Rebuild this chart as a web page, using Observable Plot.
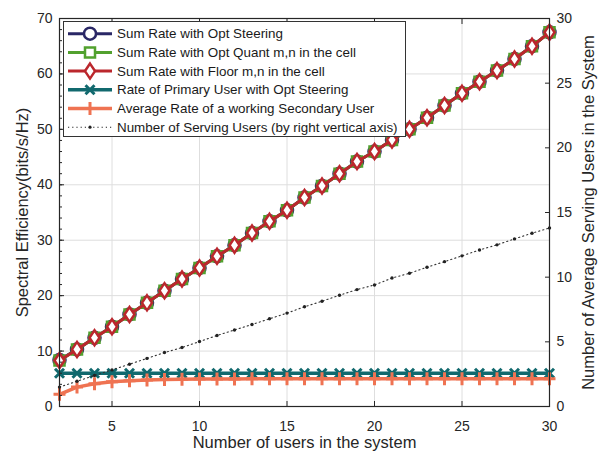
<!DOCTYPE html>
<html><head><meta charset="utf-8">
<script src="https://cdn.jsdelivr.net/npm/d3@7"></script>
<script src="https://cdn.jsdelivr.net/npm/@observablehq/plot@0.6"></script>
<style>
body{margin:0;background:#fff;}
#wrap{position:relative;width:605px;height:454px;font-family:"Liberation Sans",Arial,sans-serif;}
#legend{position:absolute;left:63px;top:21px;}
</style></head><body><div id="wrap"></div>
<script>
// ---- data ----
const users = [2,3,4,5,6,7,8,9,10,11,12,13,14,15,16,17,18,19,20,21,22,23,24,25,26,27,28,29,30];
const sumOptSteering = [8.4,10.3,12.4,14.4,16.6,18.7,20.9,23.0,25.0,27.1,29.1,31.3,33.4,35.4,37.7,39.8,42.0,44.2,46.0,48.1,50.0,52.1,54.3,56.5,58.6,60.6,62.7,65.0,67.5];
const sumOptQuant    = [8.3,10.3,12.4,14.4,16.6,18.7,20.9,23.0,25.0,27.1,29.1,31.3,33.4,35.4,37.7,39.8,42.0,44.2,46.0,48.1,50.0,52.1,54.3,56.5,58.6,60.6,62.7,65.0,67.5];
const sumFloor       = [8.3,10.3,12.4,14.4,16.6,18.7,20.9,23.0,25.0,27.1,29.1,31.3,33.4,35.4,37.7,39.8,42.0,44.2,46.0,48.1,50.0,52.1,54.3,56.5,58.6,60.6,62.7,65.0,67.5];
const primaryRate    = [6.0,6.0,6.0,6.0,6.0,6.0,6.0,6.0,6.0,6.0,6.0,6.0,6.0,6.0,6.0,6.0,6.0,6.0,6.0,6.0,6.0,6.0,6.0,6.0,6.0,6.0,6.0,6.0,6.0];
const secondaryRate  = [2.2,3.5,4.1,4.45,4.65,4.8,4.87,4.92,4.95,4.97,4.98,4.99,5.0,5.0,5.0,5.0,5.0,5.0,5.0,5.0,5.0,5.0,5.0,5.0,5.0,5.0,5.0,5.0,5.0];
const servingUsers   = [1.5,1.95,2.4,2.83,3.27,3.72,4.17,4.56,5.02,5.49,5.92,6.34,6.78,7.22,7.71,8.14,8.6,9.04,9.4,9.93,10.3,10.77,11.2,11.65,12.1,12.5,12.96,13.4,13.8];

const seriesNames = ["Sum Rate with Opt Steering","Sum Rate with Opt Quant m,n in the cell","Sum Rate with Floor m,n in the cell","Rate of Primary User with Opt Steering","Average Rate of a working Secondary User","Number of Serving Users (by right vertical axis)"];
const seriesColors = ["#2a2766","#52a12e","#bb272d","#11696e","#ef7352","#222222"];

const xTicks = [5,10,15,20,25,30];
const yLeftTicks = [0,10,20,30,40,50,60,70];
const yLeftMinor = [0,2,4,6,8,10,12,14,16,18,20,22,24,26,28,30,32,34,36,38,40,42,44,46,48,50,52,54,56,58,60,62,64,66,68,70];
const yRightTicks = [0,5,10,15,20,25,30];
const xLabel = "Number of users in the system";
const yLeftLabel = "Spectral Efficiency(bits/s/Hz)";
const yRightLabel = "Number of Average Serving Users in the System";

// ---- marker shapes ----
const sym = {
  circle: {draw(c){c.moveTo(6,0); c.arc(0,0,6,0,2*Math.PI); c.closePath();}},
  square: {draw(c){c.rect(-5,-5,10,10);}},
  diamond:{draw(c){c.moveTo(0,-7.5); c.lineTo(5,0); c.lineTo(0,7.5); c.lineTo(-5,0); c.closePath();}},
  times:  {draw(c){c.moveTo(-4.5,-4.5); c.lineTo(4.5,4.5); c.moveTo(-4.5,4.5); c.lineTo(4.5,-4.5);}},
  plus:   {draw(c){c.moveTo(-6,0); c.lineTo(6,0); c.moveTo(0,-6.5); c.lineTo(0,6.5);}},
  dot:    {draw(c){c.moveTo(1.6,0); c.arc(0,0,1.6,0,2*Math.PI); c.closePath();}}
};
const k = 70/30; // right axis -> left axis

const series = [
  {values: sumOptSteering, color: seriesColors[0], symbol: sym.circle, fill:"white", lw:3, mw:2.5},
  {values: sumOptQuant,    color: seriesColors[1], symbol: sym.square, fill:"white", lw:3, mw:2.5},
  {values: sumFloor,       color: seriesColors[2], symbol: sym.diamond, fill:"white", lw:3, mw:2.5},
  {values: primaryRate,    color: seriesColors[3], symbol: sym.times, fill:"none", lw:3.5, mw:3},
  {values: secondaryRate,  color: seriesColors[4], symbol: sym.plus, fill:"none", lw:3.5, mw:3}
];

const marks = [
  Plot.gridX({ticks: xTicks.slice(0,-1), stroke:"#dedede", strokeOpacity:1, strokeWidth:1}),
  Plot.gridY({ticks: yLeftTicks.slice(1,-1), stroke:"#dedede", strokeOpacity:1, strokeWidth:1})
];
for (const s of series) {
  const rows = users.map((u,i)=>({x:u, y:s.values[i]}));
  marks.push(Plot.line(rows, {x:"x", y:"y", stroke:s.color, strokeWidth:s.lw}));
  marks.push(Plot.dot(rows, {x:"x", y:"y", symbol:s.symbol, stroke:s.color, fill:s.fill, strokeWidth:s.mw, r:5}));
}
const servRows = users.map((u,i)=>({x:u, y:servingUsers[i]}));
marks.push(Plot.line(servRows, {x:"x", y:d=>d.y*k, stroke:"#333", strokeWidth:1.1, strokeDasharray:"1.2,3"}));
marks.push(Plot.dot(servRows, {x:"x", y:d=>d.y*k, r:1.7, fill:"#222", stroke:"none"}));
marks.push(Plot.frame({stroke:"#262626", strokeWidth:1.2}));
const none = () => "";
marks.push(
  Plot.axisX({ticks:xTicks, tickSize:0, tickPadding:15, label:null, fontSize:14}),
  Plot.axisX({ticks:xTicks, tickSize:-5, tickFormat:none, label:null}),
  Plot.axisX({anchor:"top", ticks:xTicks, tickSize:-5, tickFormat:none, label:null}),
  Plot.axisY({ticks:yLeftTicks, tickSize:0, tickPadding:7, label:null, fontSize:14}),
  Plot.axisY({ticks:yLeftTicks, tickSize:-5, tickFormat:none, label:null}),
  Plot.axisY({ticks:yLeftMinor, tickSize:-3, tickFormat:none, label:null}),
  Plot.axisY({anchor:"right", ticks:yRightTicks.map(v=>v*k), tickFormat:v=>String(Math.round(v/k)), tickSize:0, tickPadding:7, label:null, fontSize:14}),
  Plot.axisY({anchor:"right", ticks:yRightTicks.map(v=>v*k), tickSize:-5, tickFormat:none, label:null}),
  Plot.text([xLabel], {text:d=>d, frameAnchor:"bottom", dy:36, lineAnchor:"middle", textAnchor:"middle", fontSize:16.5, fill:"#262626"}),
  Plot.text([yLeftLabel], {text:d=>d, frameAnchor:"left", rotate:-90, dx:-37, textAnchor:"middle", lineAnchor:"middle", fontSize:16.5, fill:"#262626"}),
  Plot.text([yRightLabel], {text:d=>d, frameAnchor:"right", rotate:-90, dx:39, textAnchor:"middle", lineAnchor:"middle", fontSize:16.5, fill:"#262626"})
);

const chart = Plot.plot({
  width:605, height:454,
  marginLeft:59, marginRight:56, marginTop:18, marginBottom:48,
  x:{domain:[2,30]}, y:{domain:[0,70]},
  style:{fontFamily:'"Liberation Sans", Arial, sans-serif', fontSize:"14px", color:"#262626", background:"white"},
  marks
});
const wrap = document.getElementById("wrap");
wrap.appendChild(chart);

// ---- legend ----
const legSymbols = [sym.circle, sym.square, sym.diamond, sym.times, sym.plus, sym.dot];
const lw = 343, lh = 116, rowH = 18.7, row0 = 12.7;
const leg = d3.select(wrap).append("svg").attr("id","legend").attr("width",lw).attr("height",lh);
leg.append("rect").attr("x",0.5).attr("y",0.5).attr("width",lw-1).attr("height",lh-1).attr("fill","white").attr("stroke","#333");
seriesNames.forEach((name,i)=>{
  const y = row0 + i*rowH;
  const g = leg.append("g");
  const last = i === seriesNames.length-1;
  g.append("line").attr("x1",5).attr("x2",49).attr("y1",y).attr("y2",y)
    .attr("stroke", seriesColors[i]).attr("stroke-width", last ? 1.1 : (i>=3?3.5:3))
    .attr("stroke-dasharray", last ? "1.2,3" : null);
  const p = d3.path(); legSymbols[i].draw(p);
  g.append("path").attr("d", p.toString()).attr("transform",`translate(27,${y})`)
    .attr("stroke", last ? "none" : seriesColors[i]).attr("stroke-width", i>=3?3:2.5)
    .attr("fill", last ? "#222" : (i<3 ? "white" : "none"));
  g.append("text").attr("x",54).attr("y",y).attr("dy","0.35em")
    .attr("font-size","13.4px").attr("fill","#1a1a1a")
    .attr("font-family",'"Liberation Sans", Arial, sans-serif').text(name);
});
</script>
</body></html>
